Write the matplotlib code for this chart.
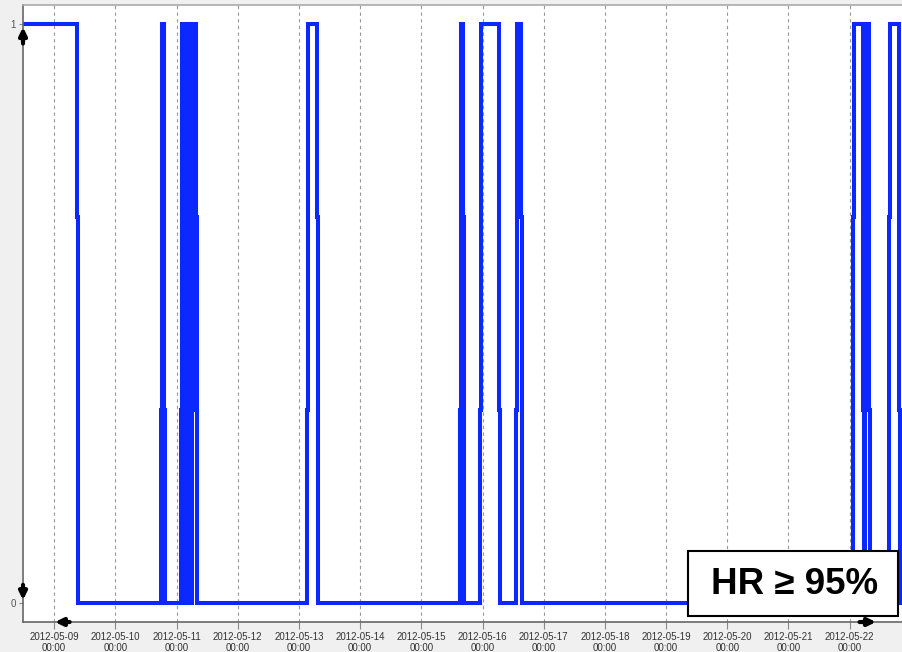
import datetime as dt
import numpy as np
import matplotlib.pyplot as plt
import matplotlib.dates as mdates
from matplotlib.patches import Rectangle

# HR >= 95% flag: periods (hours after 2012-05-09 00:00) where the flag is 1
pulse_start = [-14.0, 42.4, 50.2, 52.2, 54.6, 99.7, 159.7, 167.6, 181.7, 313.6, 318.3, 327.7]
pulse_end = [9.0, 43.0, 51.0, 53.0, 55.7, 103.2, 160.5, 174.3, 183.1, 317.1, 319.5, 331.3]
day_labels = ["2012-05-%02d\n00:00" % d for d in range(9, 23)]

t0 = dt.datetime(2012, 5, 9)
step = 0.22  # small stagger on the 1/3 and 2/3 levels, as the viewer draws transitions

hrs, vals = [-20.0], [0.0]
for s, e in zip(pulse_start, pulse_end):
    hrs += [s - 2 * step, s - 2 * step, s - step, s - step, s, s]
    vals += [0, 1 / 3, 1 / 3, 2 / 3, 2 / 3, 1]
    hrs += [e, e, e + step, e + step, e + 2 * step, e + 2 * step]
    vals += [1, 2 / 3, 2 / 3, 1 / 3, 1 / 3, 0]
hrs.append(360.0)
vals.append(0.0)
times = [t0 + dt.timedelta(hours=h) for h in hrs]

fig = plt.figure(figsize=(9.03, 6.52), dpi=100, facecolor="#f0f0f0")
ax = fig.add_axes([0.0255, 0.046, 0.977, 0.946])
ax.set_facecolor("white")

ax.plot(times, vals, color="#0a28ff", lw=2.9, solid_joinstyle="miter")

xmin = t0 - dt.timedelta(hours=12.2)
ax.set_xlim(xmin, t0 + dt.timedelta(hours=333.8))
ax.set_ylim(-0.033, 1.033)

ticks = [t0 + dt.timedelta(days=i) for i in range(len(day_labels))]
ax.set_xticks(ticks)
ax.set_xticklabels(day_labels, fontsize=7, color="#333333", family="Liberation Sans")
ax.set_yticks([0, 1])
ax.set_yticklabels(["0", "1"], fontsize=7, color="#555555", family="Liberation Sans")
ax.tick_params(axis="x", length=5, color="#888888", pad=2)
ax.tick_params(axis="y", length=3, color="#888888", pad=2)
ax.grid(axis="x", linestyle=(0, (3, 3)), color="#999999", lw=0.8)

for side in ["top", "right"]:
    ax.spines[side].set_visible(False)
ax.spines["left"].set_color("#666666")
ax.spines["bottom"].set_color("#666666")
ax.spines["left"].set_linewidth(1.2)
ax.spines["bottom"].set_linewidth(1.2)
fig.add_artist(plt.Line2D([0.0255, 1.0], [0.9923, 0.9923], color="#aaaaaa", lw=1.2))

# scroll arrows of the viewer
arrow = dict(arrowstyle="-|>,head_width=0.22,head_length=0.45", color="black", lw=3)
ax.annotate("", xy=(xmin, 1.0), xytext=(xmin, 0.962), arrowprops=arrow, annotation_clip=False)
ax.annotate("", xy=(xmin, 0.0), xytext=(xmin, 0.036), arrowprops=arrow, annotation_clip=False)
ax.annotate("", xy=(0.033, 0.0), xytext=(0.056, 0.0), xycoords="axes fraction", arrowprops=arrow)
ax.annotate("", xy=(0.970, 0.0), xytext=(0.945, 0.0), xycoords="axes fraction", arrowprops=arrow)

# label box in the lower right corner
fig.add_artist(Rectangle((688 / 903, 36 / 652), 210 / 903, 65 / 652, transform=fig.transFigure,
                         facecolor="white", edgecolor="black", lw=1.5, zorder=5))
fig.text(795 / 903, 68 / 652, "HR \u2265 95%", fontsize=26.5, fontweight="bold", ha="center",
         va="center", family=["Liberation Sans", "DejaVu Sans"], zorder=6)

fig.savefig("out.png", dpi=100, facecolor=fig.get_facecolor())
